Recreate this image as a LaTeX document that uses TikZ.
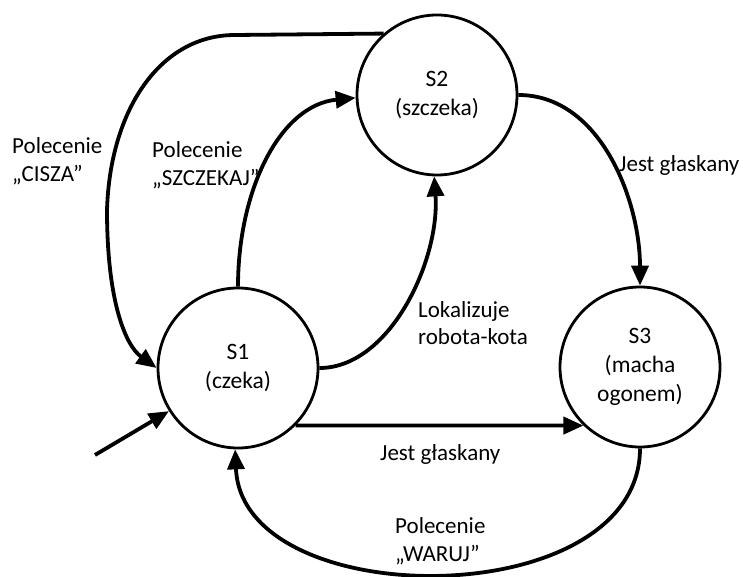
\documentclass[tikz,border=0pt]{standalone}
\usepackage{fontspec}
\setmainfont{Carlito}
\usetikzlibrary{arrows.meta}
\begin{document}
\begin{tikzpicture}[x=1pt,y=-1pt,
  state/.style={draw,circle,line width=2.8pt,minimum size=160pt,inner sep=0pt,align=center,font=\fontsize{23.5}{29}\selectfont},
  conn/.style={line width=3.8pt,-{Triangle[length=20pt,width=17pt]}},
  lbl/.style={anchor=west,inner sep=0pt,align=left,font=\fontsize{23}{27.5}\selectfont}]
\useasboundingbox (0,0) rectangle (743,577);
\node[state] (S1) at (238,368) {S1\\(czeka)};
\node[state] (S2) at (437,95) {S2\\(szczeka)};
\node[state] (S3) at (640,367) {S3\\(macha\\ogonem)};
\coordinate (c1) at (235,35);
\coordinate (c2) at (107,210);
\coordinate (start) at (95,455);
% CISZA
\draw[conn] (S2.131) -- (c1) .. controls (160,35) and (110,110) .. (c2) .. controls (107,300) and (125,345) .. (S1.180);
% SZCZEKAJ
\draw[conn] (S1.90) .. controls (238,190) and (280,105) .. (S2.182);
% Lokalizuje
\draw[conn] (S1.0) .. controls (390,368) and (440,260) .. (S2.268);
% S2 -> S3
\draw[conn] (S2.0) .. controls (600,95) and (640,200) .. (S3.90);
% S1 -> S3
\draw[conn] (S1.-45) -- (S3.-134);
% WARUJ
\draw[conn] (S3.270) .. controls (640,615) and (242,615) .. (S1.268);
% initial
\draw[conn] (start) -- (S1.212);
\node[lbl] (l1) at (12,161) {Polecenie\\„CISZA”};
\node[lbl] (l2) at (152,165) {Polecenie\\„SZCZEKAJ”};
\node[lbl,anchor=base west] (l3) at (619,172) {Jest głaskany};
\node[lbl] (l4) at (418,323) {Lokalizuje\\robota-kota};
\node[lbl,anchor=base west] (l5) at (380,460) {Jest głaskany};
\node[lbl] (l6) at (395,541) {Polecenie\\„WARUJ”};
\end{tikzpicture}
\end{document}
